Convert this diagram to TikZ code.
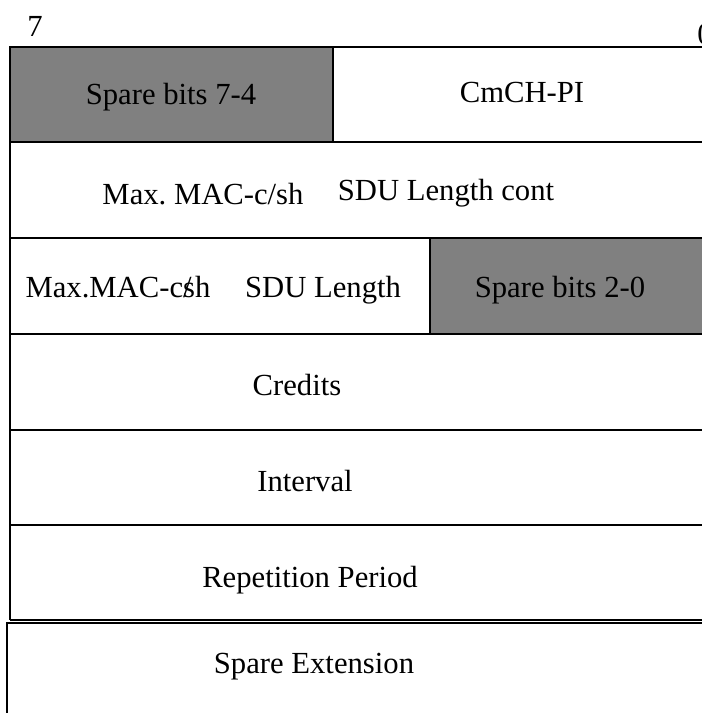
\documentclass[tikz,border=0pt]{standalone}
\usepackage{fontspec}
\setmainfont{Liberation Serif}
\tikzstyle{field} = [draw=black, line width=1.2pt]
\tikzstyle{spare} = [field, fill=gray]
\tikzstyle{fieldtext} = [font=\fontsize{23}{26}\selectfont\frenchspacing, inner sep=0pt, anchor=base]

\begin{document}
\begin{tikzpicture}[x=0.75pt,y=-0.75pt]%
	\useasboundingbox (0,0) rectangle (702,713);
	\clip (0,0) rectangle (702,713);
	% bit numbers
	\node[fieldtext] (msb) at (35,37) {7};
	\node[fieldtext] (lsb) at (705,45) {0};
	% octets
	\draw[spare] (10,47) rectangle (333,142);
	\draw[spare] (430,238) rectangle (710,334);
	\draw[field] (10,47) -- (710,47);
	\foreach \y in {142,238,334,430,525,620}
		\draw[field] (10,\y) -- (710,\y);
	\draw[field] (10,47) -- (10,620);
	\draw[field] (7,720) -- (7,623) -- (710,623);
	% field names
	\node[fieldtext] (spare74) at (171,105) {Spare bits 7-4};
	\node[fieldtext] (cmchpi) at (522,103) {CmCH-PI};
	\node[fieldtext] (maxmac) at (203,204) {Max. MAC-c/sh};
	\node[fieldtext] (sducont) at (446,200) {SDU Length cont};
	\node[fieldtext] (maxmacb) at (118,297) {Max.MAC-c\rlap{/}sh};
	\node[fieldtext] (sdulen) at (323,297) {SDU Length};
	\node[fieldtext] (spare20) at (560,297) {Spare bits 2-0};
	\node[fieldtext] (credits) at (297,395) {Credits};
	\node[fieldtext] (interval) at (305,491) {Interval};
	\node[fieldtext] (repper) at (310,587) {Repetition Period};
	\node[fieldtext] (spareext) at (314,673) {Spare Extension};
\end{tikzpicture}
\end{document}
